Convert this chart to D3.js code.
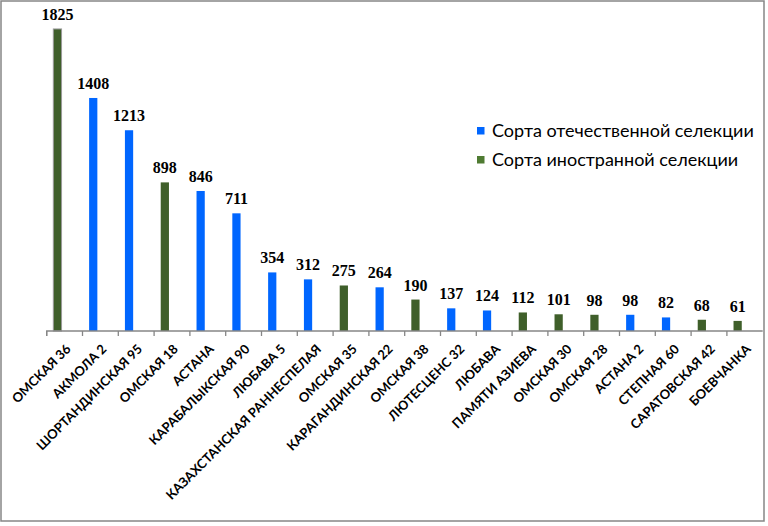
<!DOCTYPE html>
<html>
<head>
<meta charset="utf-8">
<script src="https://cdn.jsdelivr.net/npm/d3@7"></script>
<style>
  html, body { margin: 0; padding: 0; background: #fff; }
  svg { display: block; }
</style>
</head>
<body>
<svg id="chart" width="768" height="526"></svg>
<script>
const categories = ["ОМСКАЯ 36","АКМОЛА 2","ШОРТАНДИНСКАЯ 95","ОМСКАЯ 18","АСТАНА","КАРАБАЛЫКСКАЯ 90","ЛЮБАВА 5","КАЗАХСТАНСКАЯ РАННЕСПЕЛАЯ","ОМСКАЯ 35","КАРАГАНДИНСКАЯ 22","ОМСКАЯ 38","ЛЮТЕСЦЕНС 32","ЛЮБАВА","ПАМЯТИ АЗИЕВА","ОМСКАЯ 30","ОМСКАЯ 28","АСТАНА 2","СТЕПНАЯ 60","САРАТОВСКАЯ 42","БОЕВЧАНКА"];
const values = [1825,1408,1213,898,846,711,354,312,275,264,190,137,124,112,101,98,98,82,68,61];
// "d" = Сорта отечественной селекции, "f" = Сорта иностранной селекции
const origin = ["f","d","d","f","d","d","d","d","f","d","f","d","d","f","f","f","d","d","f","f"];
const seriesNames = ["Сорта отечественной селекции","Сорта иностранной селекции"];
const seriesKeys = ["d","f"];

const barColor = {d: "#0066FF", f: "#3F5F2A"};
const legendColor = {d: "#0066FF", f: "#4F7B32"};

const svg = d3.select("#chart");

// outer frame
svg.append("rect").attr("x", 1).attr("y", 1).attr("width", 763).attr("height", 520)
  .attr("fill", "#fff").attr("stroke", "#868686").attr("stroke-width", 1.5);

const x = d3.scaleBand().domain(categories).range([46.7, 762.7]).padding(0);
const y = d3.scaleLinear().domain([0, 2000]).range([331, 0]);

const bw = x.bandwidth();
const data = categories.map((c, i) => ({c, v: values[i], o: origin[i]}));

// bars
svg.append("g").selectAll("rect").data(data).join("rect")
  .attr("x", d => x(d.c) + bw * 0.185)
  .attr("width", bw * 0.23)
  .attr("y", d => y(d.v))
  .attr("height", d => y(0) - y(d.v))
  .attr("fill", d => barColor[d.o])
  .attr("stroke", (d, i) => i === 0 ? "#9a9a9a" : "none")
  .attr("stroke-width", 1);

// value labels
svg.append("g").selectAll("text").data(data).join("text")
  .attr("x", d => x(d.c) + bw * 0.185 + bw * 0.115)
  .attr("y", d => y(d.v) - 9)
  .attr("text-anchor", "middle")
  .attr("font-family", "'Liberation Serif', 'Times New Roman', serif")
  .attr("font-weight", "bold")
  .attr("font-size", 16)
  .attr("fill", "#000")
  .text(d => d.v);

// x axis
const axis = d3.axisBottom(x).tickSizeOuter(0).tickSizeInner(5).tickFormat("");
const gx = svg.append("g").attr("transform", "translate(0,331)").call(axis);
gx.select(".domain").attr("stroke", "#868686").attr("stroke-width", 1.3)
  .attr("d", `M46.7,5V0H762.7`);
// move ticks to band boundaries
gx.selectAll(".tick").attr("transform", d => `translate(${x(d)},0)`);
gx.selectAll(".tick line").attr("stroke", "#868686").attr("stroke-width", 1.3);

// category labels
svg.append("g").selectAll("text").data(data).join("text")
  .attr("transform", d => `translate(${x(d.c) + bw / 2},343) rotate(-45)`)
  .attr("dy", "0.75em")
  .attr("text-anchor", "end")
  .attr("font-family", "Lato, 'Open Sans', sans-serif")
  .attr("font-weight", "bold")
  .attr("font-size", 13)
  .attr("fill", "#000")
  .text(d => d.c);

// legend
const lg = svg.append("g");
seriesKeys.forEach((k, i) => {
  const yy = 137 + i * 29;
  lg.append("rect").attr("x", 477).attr("y", yy - 10).attr("width", 7.5).attr("height", 7.5)
    .attr("fill", legendColor[k]);
  lg.append("text").attr("x", 492).attr("y", yy)
    .attr("font-family", "Lato, 'Open Sans', sans-serif")
    .attr("font-size", 18)
    .attr("fill", "#000")
    .text(seriesNames[i]);
});
</script>
</body>
</html>
